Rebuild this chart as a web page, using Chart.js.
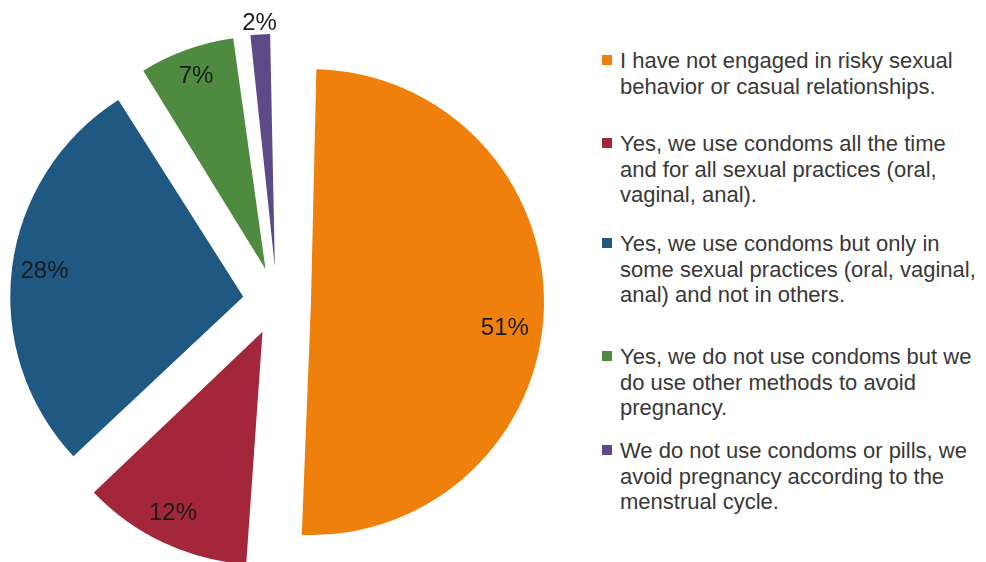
<!DOCTYPE html>
<html>
<head>
<meta charset="utf-8">
<script src="https://cdn.jsdelivr.net/npm/chart.js@4/dist/chart.umd.min.js"></script>
<style>
    body { margin: 0; background: #ffffff; }
    #contenedor { position: relative; width: 986px; height: 562px; overflow: hidden; }
    #myPieChart { position: absolute; left: 0; top: 0; }
    .item {
        position: absolute;
        left: 602px;
        padding-left: 18px;
        font-family: "Liberation Sans", Arial, sans-serif;
        font-size: 22px;
        line-height: 25.5px;
        color: #383838;
        white-space: nowrap;
    }
    .cuadro { position: absolute; left: 0; top: 7px; width: 10px; height: 10px; }
</style>
</head>
<body>
<div id="contenedor">
    <canvas id="myPieChart" width="554" height="562"></canvas>
    <div id="leyenda"></div>
</div>
<script>
// Categorías (cada una partida en líneas como en la leyenda)
const categorias = [
    ['I have not engaged in risky sexual', 'behavior or casual relationships.'],
    ['Yes, we use condoms all the time', 'and for all sexual practices (oral,', 'vaginal, anal).'],
    ['Yes, we use condoms but only in', 'some sexual practices (oral, vaginal,', 'anal) and not in others.'],
    ['Yes, we do not use condoms but we', 'do use other methods to avoid', 'pregnancy.'],
    ['We do not use condoms or pills, we', 'avoid pregnancy according to the', 'menstrual cycle.']
];

// Porcentaje de respuestas
const porcentajes = [51, 12, 28, 7, 2];

const colores = ['#EF800C', '#A3263A', '#1F5880', '#4E8A40', '#5E4A88'];

// Posición de las etiquetas: fracción del radio y giro (grados)
const radioEtiqueta = [0.84, 0.87, 0.86, 0.88, 1.05];
const giroEtiqueta = [6, 1, 0, 0, 0];

// Posición vertical de cada entrada de la leyenda
const topLeyenda = [48, 131, 231, 344, 438];

const RADIO = 233;
const DESPLAZAMIENTO = 136;   // el arco se traslada offset/4 px

// Mantiene el mismo radio en todos los sectores
// (Chart.js agranda los sectores pequeños cuando llevan offset)
const radioIgual = {
    id: 'radioIgual',
    beforeDatasetsDraw(chart) {
        const meta = chart.getDatasetMeta(0);
        meta.data.forEach(arc => {
            const fix = 1 - Math.sin(Math.min(Math.PI, arc.circumference));
            arc.outerRadius = RADIO - (DESPLAZAMIENTO / 4) * fix;
        });
    }
};

// Etiquetas de porcentaje sobre cada sector
const etiquetas = {
    id: 'etiquetas',
    afterDatasetsDraw(chart) {
        const ctx = chart.ctx;
        const meta = chart.getDatasetMeta(0);
        ctx.save();
        ctx.font = '24px "Liberation Sans", Arial, sans-serif';
        ctx.fillStyle = '#1c1c1c';
        ctx.textAlign = 'center';
        ctx.textBaseline = 'middle';
        meta.data.forEach((arc, i) => {
            const medio = (arc.startAngle + arc.endAngle) / 2;
            const d = DESPLAZAMIENTO / 4;
            const ox = arc.x + Math.cos(medio) * d;
            const oy = arc.y + Math.sin(medio) * d;
            const ang = medio + giroEtiqueta[i] * Math.PI / 180;
            const r = RADIO * radioEtiqueta[i];
            ctx.fillText(porcentajes[i] + '%', ox + Math.cos(ang) * r, oy + Math.sin(ang) * r);
        });
        ctx.restore();
    }
};

const pieData = {
    labels: categorias,
    datasets: [{
        data: porcentajes,
        backgroundColor: colores,
        borderWidth: 0,
        offset: DESPLAZAMIENTO,
        hoverOffset: 0,
        radius: RADIO
    }]
};

const configPie = {
    type: 'pie',
    data: pieData,
    options: {
        responsive: false,
        animation: false,
        layout: {
            padding: { top: 40 }
        },
        plugins: {
            legend: { display: false },
            tooltip: { enabled: false }
        }
    },
    plugins: [radioIgual, etiquetas]
};

const pieCtx = document.getElementById('myPieChart').getContext('2d');
const grafica = new Chart(pieCtx, configPie);

// Leyenda en HTML a partir de los datos de la gráfica
const leyenda = document.getElementById('leyenda');
grafica.data.labels.forEach((lineas, i) => {
    const item = document.createElement('div');
    item.className = 'item';
    item.style.top = topLeyenda[i] + 'px';
    const cuadro = document.createElement('span');
    cuadro.className = 'cuadro';
    cuadro.style.background = colores[i];
    item.appendChild(cuadro);
    lineas.forEach((texto, j) => {
        if (j > 0) item.appendChild(document.createElement('br'));
        item.appendChild(document.createTextNode(texto));
    });
    leyenda.appendChild(item);
});
</script>
</body>
</html>
